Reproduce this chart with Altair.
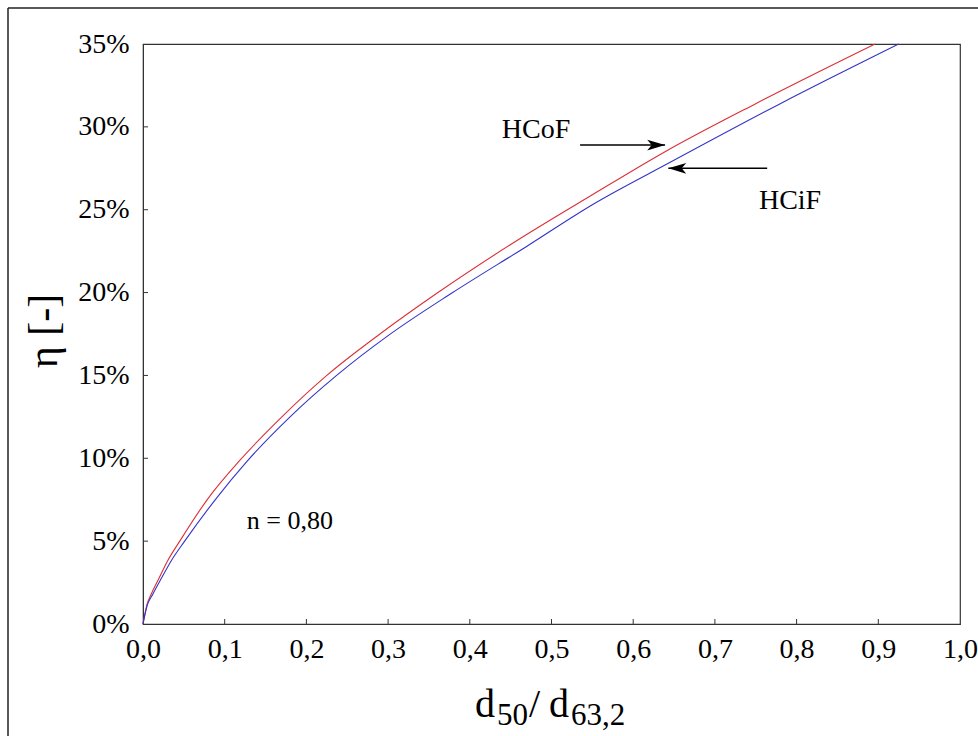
import altair as alt
import pandas as pd

# ---- data ----
hcof_x = [0.0, 0.005, 0.01, 0.019, 0.03, 0.045, 0.08, 0.119, 0.17, 0.225, 0.29, 0.361, 0.45, 0.55, 0.639, 0.75, 0.896]
hcof_y = [0.0, 1.2, 1.8, 2.7, 3.8, 5.0, 7.6, 9.9, 12.5, 15.0, 17.5, 20.0, 22.9, 25.9, 28.5, 31.4, 35.0]
hcif_x = [0.0, 0.005, 0.012, 0.023, 0.035, 0.051, 0.09, 0.127, 0.18, 0.237, 0.30, 0.379, 0.47, 0.55, 0.643, 0.78, 0.925]
hcif_y = [0.0, 1.1, 1.8, 2.8, 3.85, 5.0, 7.6, 9.8, 12.5, 15.0, 17.4, 20.0, 22.8, 25.3, 27.8, 31.4, 35.0]
series = ["HCoF", "HCiF"]
colors = ["#dc2f36", "#3434c8"]
x_ticks = [0.0, 0.1, 0.2, 0.3, 0.4, 0.5, 0.6, 0.7, 0.8, 0.9, 1.0]
y_ticks = [0, 5, 10, 15, 20, 25, 30, 35]

W, H = 817, 580
FONT = "Liberation Serif"

rows = [{"s": "HCoF", "x": a, "y": b} for a, b in zip(hcof_x, hcof_y)]
rows += [{"s": "HCiF", "x": a, "y": b} for a, b in zip(hcif_x, hcif_y)]
df = pd.DataFrame(rows)

xs = alt.Scale(domain=[0, 1], nice=False, zero=False)
ys = alt.Scale(domain=[0, 35], nice=False)

lines = alt.Chart(df).mark_line(strokeWidth=1.1, interpolate="monotone").encode(
    x=alt.X("x:Q", scale=xs, axis=alt.Axis(
        values=x_ticks, title=None, grid=False, ticks=False, tickSize=0,
        labelExpr="replace(format(datum.value, '.1f'), '.', ',')",
        labelFont=FONT, labelFontSize=28, labelColor="black", labelPadding=11,
        domainColor="#333", labelFlush=False)),
    y=alt.Y("y:Q", scale=ys, axis=alt.Axis(
        values=y_ticks, title=None, grid=False, ticks=False, tickSize=0,
        labelExpr="format(datum.value, 'd') + '%'",
        labelFont=FONT, labelFontSize=28, labelColor="black", labelPadding=14,
        domainColor="#333", labelFlush=False)),
    color=alt.Color("s:N", scale=alt.Scale(domain=series, range=colors), legend=None),
    detail="s:N",
)

# inward ticks
xt = alt.Chart(pd.DataFrame({"v": x_ticks[1:-1]})).mark_rule(color="#333").encode(
    x=alt.X("v:Q", scale=xs), y=alt.value(H), y2=alt.value(H - 5))
yt = alt.Chart(pd.DataFrame({"v": y_ticks[1:-1]})).mark_rule(color="#333").encode(
    y=alt.Y("v:Q", scale=ys), x=alt.value(0), x2=alt.value(5))

# annotations (data coordinates)
ann = pd.DataFrame({
    "t": ["HCoF", "HCiF", "n = 0,80"],
    "x": [0.481, 0.792, 0.127],
    "y": [29.8, 25.5, 6.2],
    "a": ["center", "center", "left"],
})
ann_left = ann[ann["a"] == "left"]
ann_ctr = ann[ann["a"] == "center"]
t_ctr = alt.Chart(ann_ctr).mark_text(font=FONT, fontSize=28, color="black", baseline="middle", align="center").encode(
    x=alt.X("x:Q", scale=xs), y=alt.Y("y:Q", scale=ys), text="t:N")
t_left = alt.Chart(ann_left).mark_text(font=FONT, fontSize=26, color="black", baseline="middle", align="left").encode(
    x=alt.X("x:Q", scale=xs), y=alt.Y("y:Q", scale=ys), text="t:N")

arrows = pd.DataFrame({
    "x0": [0.535, 0.764], "x1": [0.639, 0.643], "y": [28.9, 27.5],
    "shape": ["M0,0 L-2,-0.6 L-1.5,0 L-2,0.6 Z", "M0,0 L2,-0.6 L1.5,0 L2,0.6 Z"],
})
shaft = alt.Chart(arrows).mark_rule(color="black", strokeWidth=1.5).encode(
    x=alt.X("x0:Q", scale=xs), x2="x1:Q", y=alt.Y("y:Q", scale=ys))
heads = alt.Chart(arrows).mark_point(filled=True, color="black", opacity=1, size=320).encode(
    x=alt.X("x1:Q", scale=xs), y=alt.Y("y:Q", scale=ys),
    shape=alt.Shape("shape:N", scale=None))

# axis titles (pixel positions outside plot area)
ytitle = alt.Chart(pd.DataFrame({"t": ["η [-]"]})).mark_text(
    font=FONT, fontSize=42, angle=270, align="center", baseline="middle", color="black").encode(
    x=alt.value(-99), y=alt.value(287), text="t:N")

xparts = pd.DataFrame({
    "t": ["d", "50", "/", "d", "63,2"],
    "px": [332, 354, 386, 406, 428],
    "py": [673, 681, 673, 673, 681],
    "fs": [40, 31, 40, 40, 31],
})
xt_main = alt.Chart(xparts[xparts["fs"] == 40]).mark_text(
    font=FONT, fontSize=40, align="left", baseline="alphabetic", color="black").encode(
    x=alt.X("px:Q", scale=None), y=alt.Y("py:Q", scale=None), text="t:N")
xt_sub = alt.Chart(xparts[xparts["fs"] == 31]).mark_text(
    font=FONT, fontSize=31, align="left", baseline="alphabetic", color="black").encode(
    x=alt.X("px:Q", scale=None), y=alt.Y("py:Q", scale=None), text="t:N")

# outer border (top and left edges of the figure frame)
border_top = alt.Chart(pd.DataFrame({"a": [0]})).mark_rule(color="#222", strokeWidth=1.5).encode(
    x=alt.value(-135), x2=alt.value(W + 40), y=alt.value(-36))
border_left = alt.Chart(pd.DataFrame({"a": [0]})).mark_rule(color="#222", strokeWidth=1.5).encode(
    x=alt.value(-135), y=alt.value(-36), y2=alt.value(H + 120))

chart = alt.layer(
    lines, xt, yt, t_ctr, t_left, shaft, heads, ytitle, xt_main, xt_sub, border_top, border_left
).properties(
    width=W, height=H,
    autosize=alt.AutoSizeParams(type="none"),
    padding={"left": 143, "top": 44, "right": 18, "bottom": 112},
    background="white",
).configure_view(stroke="#333", strokeWidth=1.2)

chart.save("out.html", embed_options={"renderer": "svg", "actions": False})
